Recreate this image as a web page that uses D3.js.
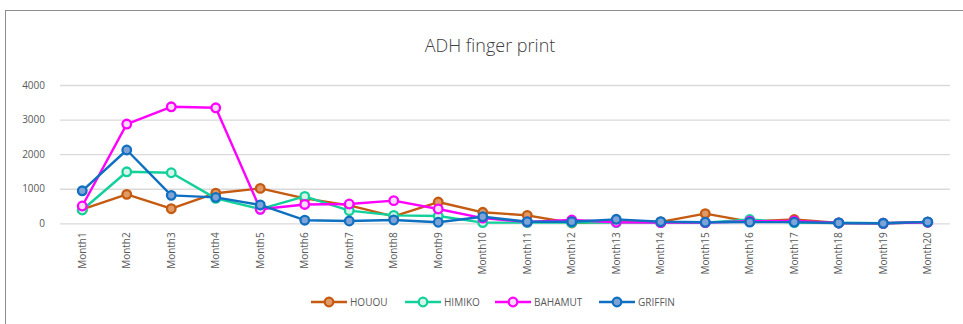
<!DOCTYPE html>
<html>
<head>
<meta charset="utf-8">
<script src="https://cdn.jsdelivr.net/npm/d3@7"></script>
<style>
  html, body { margin: 0; padding: 0; background: #fff; }
  svg { display: block; font-family: "Open Sans", "Noto Sans", sans-serif; }
</style>
</head>
<body>
<svg id="chart" width="963" height="324"></svg>
<script>
// Categories and series values
const months = ["Month1","Month2","Month3","Month4","Month5","Month6","Month7","Month8","Month9","Month10",
                "Month11","Month12","Month13","Month14","Month15","Month16","Month17","Month18","Month19","Month20"];
const houou   = [400, 838, 422, 870, 1010, 720, 520, 200, 615, 318, 230, 10, 50, 40, 280, 50, 110, 10, 0, 30];
const himiko  = [385, 1490, 1462, 720, 410, 780, 365, 230, 210, 20, 20, 20, 20, 20, 20, 110, 20, 10, 0, 30];
const bahamut = [500, 2870, 3370, 3340, 405, 545, 558, 655, 413, 150, 40, 95, 30, 20, 20, 60, 70, 10, 0, 30];
const griffin = [940, 2120, 809, 750, 530, 90, 66, 95, 30, 190, 46, 46, 115, 46, 30, 35, 35, 10, 0, 40];
const seriesNames = ["HOUOU", "HIMIKO", "BAHAMUT", "GRIFFIN"];
const yTicks = [0, 1000, 2000, 3000, 4000];
const chartTitle = "ADH finger print";

const seriesValues = [houou, himiko, bahamut, griffin];
const strokeColors = ["#c55a11", "#12d09a", "#ff00ff", "#0f6fc0"];
const fillColors   = ["#e09a67", "#d6f5ea", "#f6dcf6", "#7fa3d6"];

const svg = d3.select("#chart");

// Outer frame
svg.append("rect")
  .attr("x", 5.5).attr("y", 10.5)
  .attr("width", 990).attr("height", 340)
  .attr("fill", "#fff").attr("stroke", "#8c8c8c").attr("stroke-width", 1);

// Title
svg.append("text")
  .attr("x", 490).attr("y", 52)
  .attr("text-anchor", "middle")
  .attr("font-size", 18).attr("font-weight", 300)
  .attr("fill", "#404040")
  .text(chartTitle);

const x = d3.scaleBand().domain(months).range([60, 950]);
const y = d3.scaleLinear().domain([0, 4000]).range([223.3, 85]);

// Gridlines and y-axis labels
const yAxis = d3.axisLeft(y).tickValues(yTicks).tickSize(-890).tickPadding(15).tickFormat(d3.format("d"));
const gy = svg.append("g").attr("transform", "translate(60,0)").call(yAxis);
gy.select(".domain").remove();
gy.selectAll(".tick line").attr("stroke", "#d9d9d9").attr("stroke-width", 1.3);
gy.selectAll(".tick text").attr("fill", "#595959").attr("font-size", 10)
  .attr("font-family", "\"Open Sans\", sans-serif");

// x-axis labels, rotated
const xAxis = d3.axisBottom(x).tickSize(0).tickPadding(0);
const gx = svg.append("g").attr("transform", `translate(0,${y(0)})`).call(xAxis);
gx.select(".domain").remove();
gx.selectAll(".tick text")
  .attr("fill", "#595959").attr("font-size", 10)
  .attr("font-family", "\"Open Sans\", sans-serif")
  .attr("transform", "rotate(-90)")
  .attr("text-anchor", "end")
  .attr("dx", "-9")
  .attr("dy", "0.35em")
  .attr("y", 0).attr("x", 0);

const cx = m => x(m) + x.bandwidth() / 2;
const line = d3.line().x((d, i) => cx(months[i])).y(d => y(d));

// Series, drawn so GRIFFIN sits on top
seriesValues.forEach((vals, s) => {
  const g = svg.append("g");
  g.append("path")
    .datum(vals)
    .attr("d", line)
    .attr("fill", "none")
    .attr("stroke", strokeColors[s])
    .attr("stroke-width", 2.4)
    .attr("stroke-linejoin", "round");
  g.selectAll("circle")
    .data(vals)
    .join("circle")
    .attr("cx", (d, i) => cx(months[i]))
    .attr("cy", d => y(d))
    .attr("r", 4.3)
    .attr("fill", fillColors[s])
    .attr("stroke", strokeColors[s])
    .attr("stroke-width", 2.3);
});

// Legend
const legendX = [311, 405, 495, 599];
const legendY = 302;
const lg = svg.append("g");
seriesNames.forEach((name, s) => {
  const item = lg.append("g").attr("transform", `translate(${legendX[s]},${legendY})`);
  item.append("line")
    .attr("x1", 0).attr("x2", 36).attr("y1", 0).attr("y2", 0)
    .attr("stroke", strokeColors[s]).attr("stroke-width", 2.4);
  item.append("circle")
    .attr("cx", 18).attr("cy", 0).attr("r", 4.3)
    .attr("fill", fillColors[s]).attr("stroke", strokeColors[s]).attr("stroke-width", 2.3);
  item.append("text")
    .attr("x", 39).attr("y", 0).attr("dy", "0.35em")
    .attr("font-size", 10).attr("fill", "#595959")
    .text(name);
});
</script>
</body>
</html>
